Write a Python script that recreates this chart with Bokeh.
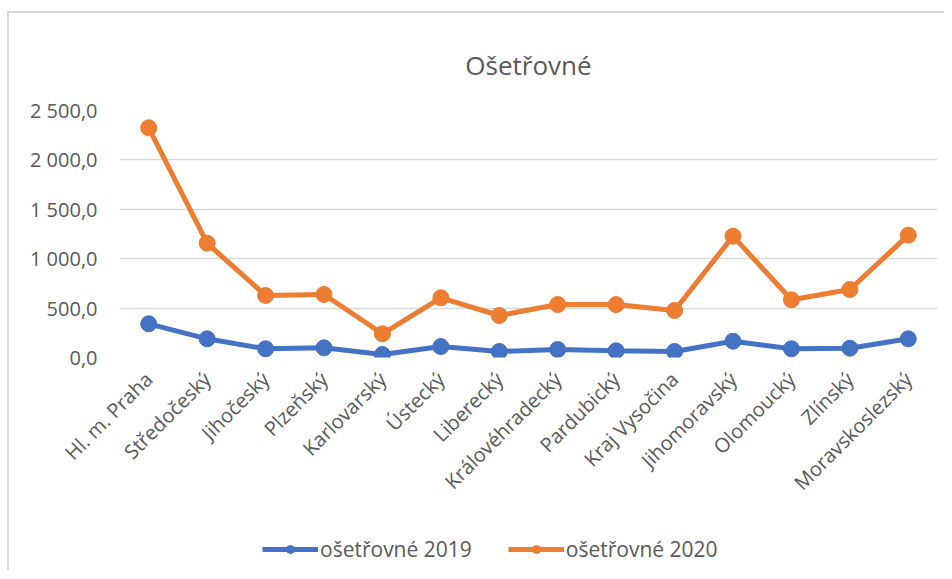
from bokeh.plotting import figure
from bokeh.models import FixedTicker, Range1d, Legend, LegendItem
from bokeh.layouts import column
from bokeh.embed import file_html
from bokeh.resources import INLINE
import math

regions = ["Hl. m. Praha", "Středočeský", "Jihočeský", "Plzeňský", "Karlovarský",
           "Ústecký", "Liberecký", "Královéhradecký", "Pardubický", "Kraj Vysočina",
           "Jihomoravský", "Olomoucký", "Zlínský", "Moravskoslezský"]
values_2019 = [341, 189, 88, 98, 30, 111, 61, 81, 68, 61, 165, 88, 94, 189]
values_2020 = [2325, 1157, 628, 638, 240, 604, 425, 536, 536, 476, 1228, 584, 688, 1238]
y_ticks = [0, 500, 1000, 1500, 2000, 2500]
y_tick_labels = ["0,0", "500,0", "1 000,0", "1 500,0", "2 000,0", "2 500,0"]
series_names = ["ošetřovné 2019", "ošetřovné 2020"]
title_text = "Ošetřovné"

FONT = "Open Sans"
TXT = "#595959"
colors = ["#4472C4", "#ED7D31"]
series = [values_2019, values_2020]

p = figure(width=935, height=507, x_range=regions, y_range=Range1d(0, 2500),
           output_backend="svg", toolbar_location=None, title=title_text,
           min_border_left=110, min_border_right=7, min_border_top=97,
           min_border_bottom=163)

p.title.align = "center"
p.title.text_font = FONT
p.title.text_font_size = "26px"
p.title.text_font_style = "normal"
p.title.text_color = TXT
p.title.standoff = 56

p.outline_line_color = None
p.background_fill_color = "white"
p.border_fill_color = "white"

p.yaxis.ticker = FixedTicker(ticks=y_ticks)
p.yaxis.major_label_overrides = {t: l for t, l in zip(y_ticks, y_tick_labels)}
p.yaxis.axis_line_color = None
p.yaxis.major_tick_line_color = None
p.yaxis.minor_tick_line_color = None
p.yaxis.major_label_text_font = FONT
p.yaxis.major_label_text_font_size = "20px"
p.yaxis.major_label_text_color = TXT
p.yaxis.major_label_standoff = 16

p.xaxis.axis_line_color = None
p.xaxis.major_tick_line_color = None
p.xaxis.major_label_orientation = math.pi / 4
p.xaxis.major_label_text_font = FONT
p.xaxis.major_label_text_font_size = "20px"
p.xaxis.major_label_text_color = TXT
p.xaxis.major_label_standoff = 12

p.xgrid.grid_line_color = None
p.ygrid.ticker = FixedTicker(ticks=y_ticks)
p.ygrid.grid_line_color = "#d9d9d9"
p.ygrid.grid_line_width = 1.5
p.x_range.range_padding = 0

for vals, col in zip(series, colors):
    p.line(regions, vals, line_color=col, line_width=5)
    p.scatter(regions, vals, size=16, fill_color=col, line_color=col)

# legend strip below the chart
pl = figure(width=935, height=50, x_range=regions, y_range=Range1d(-20, -10),
            output_backend="svg", toolbar_location=None,
            x_axis_location=None, y_axis_location=None, min_border=0)
pl.outline_line_color = None
pl.grid.grid_line_color = None
items = []
for vals, col, name in zip(series, colors, series_names):
    l = pl.line(regions, vals, line_color=col, line_width=5)
    c = pl.scatter(regions, vals, size=14, fill_color=col, line_color=col)
    items.append(LegendItem(label=name, renderers=[l, c]))
legend = Legend(items=items, orientation="horizontal", location=(143, 7),
                label_text_font=FONT, label_text_font_size="21px",
                label_text_color=TXT, border_line_color=None,
                background_fill_alpha=0,
                glyph_width=56, spacing=36, label_standoff=2,
                margin=0, padding=4)
pl.add_layout(legend, "center")

layout = column(p, pl, spacing=0, margin=(11, 0, 0, 7),
                styles={"border-top": "2px solid #d9d9d9",
                        "border-left": "2px solid #d9d9d9"})
open("out.html", "w").write(file_html(layout, INLINE))
